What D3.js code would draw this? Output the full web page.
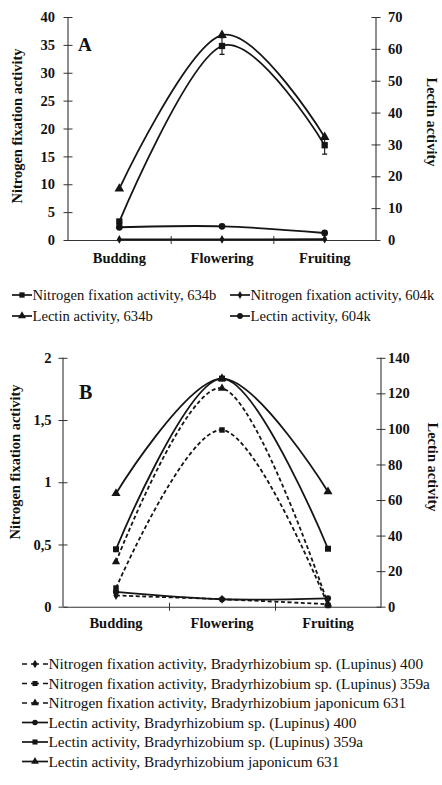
<!DOCTYPE html>
<html><head><meta charset="utf-8">
<script src="https://cdn.jsdelivr.net/npm/d3@7"></script>
<style>
html,body{margin:0;padding:0;background:#fff;}
svg{display:block;}
text{font-family:"Liberation Serif","Times New Roman",serif;fill:#111;}
</style></head>
<body>
<svg id="c" width="442" height="785"></svg>
<script>
// ---------- DATA ----------
const stages = ["Budding", "Flowering", "Fruiting"];

// Panel A
const nf634b = [3.3, 34.8, 17.0];
const nf634bErr = [0.4, 1.5, 1.6];
const lectin634b = [16.1, 64.3, 32.3];
const nf604k = [0.1, 0.1, 0.15];
const lectin604k = [4.0, 4.3, 2.2];
const ticksALeft = [0, 5, 10, 15, 20, 25, 30, 35, 40];
const ticksARight = [0, 10, 20, 30, 40, 50, 60, 70];
const legendA = ["Nitrogen fixation activity, 634b", "Nitrogen fixation activity, 604k",
                 "Lectin activity, 634b", "Lectin activity, 604k"];

// Panel B
const nf400 = [0.09, 0.06, 0.02];
const nf359a = [0.15, 1.42, 0.01];
const nf631 = [0.36, 1.755, 0.02];
const lec400 = [8.3, 4.2, 4.7];
const lec359a = [32.3, 128.3, 32.6];
const lec631 = [63.7, 128.3, 64.7];
const ticksBLeft = [0, 0.5, 1, 1.5, 2];
const ticksBLeftLabels = ["0", "0,5", "1", "1,5", "2"];
const ticksBRight = [0, 20, 40, 60, 80, 100, 120, 140];
const legendB = [
  "Nitrogen fixation activity, Bradyrhizobium sp. (Lupinus) 400",
  "Nitrogen fixation activity, Bradyrhizobium sp. (Lupinus) 359a",
  "Nitrogen fixation activity, Bradyrhizobium japonicum 631",
  "Lectin activity, Bradyrhizobium sp. (Lupinus) 400",
  "Lectin activity, Bradyrhizobium sp. (Lupinus) 359a",
  "Lectin activity, Bradyrhizobium japonicum 631"
];
const yTitleLeft = "Nitrogen fixation activity";
const yTitleRight = "Lectin activity";

// ---------- DRAW ----------
const svg = d3.select("#c");
const INK = "#151515";
const AX = "#333";
const curve = d3.curveCatmullRom.alpha(0);

const symbols = {
  square: d3.symbolSquare, triangle: d3.symbolTriangle,
  circle: d3.symbolCircle, diamond: d3.symbolDiamond
};

function panel(cfg) {
  const g = svg.append("g");
  const x = d3.scaleBand().domain(stages).range([cfg.x0, cfg.x1]);
  const xl = d3.scaleLinear().domain([0, 3]).range([cfg.x0, cfg.x1]);
  const yL = d3.scaleLinear().domain(cfg.yLDom).range([cfg.y0, cfg.y1]);
  const yR = d3.scaleLinear().domain(cfg.yRDom).range([cfg.y0, cfg.y1]);

  const la = g.append("g").attr("transform", `translate(${cfg.x0},0)`)
    .call(d3.axisLeft(yL).tickValues(cfg.ticksL).tickSize(4.5).tickPadding(cfg.padL)
      .tickFormat((d, i) => cfg.ticksLLabels ? cfg.ticksLLabels[i] : d));
  la.selectAll(".tick line").attr("x1", 4.5).attr("x2", -4.5);
  const ra = g.append("g").attr("transform", `translate(${cfg.x1},0)`)
    .call(d3.axisRight(yR).tickValues(cfg.ticksR).tickSize(4.5).tickPadding(cfg.padR));
  ra.selectAll(".tick line").attr("x1", -4.5).attr("x2", 4.5);
  const xa = g.append("g").attr("transform", `translate(0,${cfg.y0})`)
    .call(d3.axisBottom(x).tickSize(0).tickPadding(cfg.padX).tickSizeOuter(0));
  const xt = g.append("g").attr("transform", `translate(0,${cfg.y0})`)
    .call(d3.axisBottom(xl).tickValues([1, 2]).tickFormat("").tickSize(4));
  xt.select(".domain").remove();
  xt.selectAll(".tick line").attr("y1", -4).attr("y2", 4);

  [la, ra, xa, xt].forEach(a => {
    a.selectAll(".domain").attr("stroke", AX).attr("stroke-width", 1.1);
    a.selectAll(".tick line").attr("stroke", AX).attr("stroke-width", 1);
    a.selectAll("text").attr("font-family", '"Liberation Serif",serif')
      .attr("font-weight", "bold").attr("font-size", cfg.tickFs).attr("fill", "#111");
  });
  ra.select(".domain").attr("d", `M0,${cfg.y0}V${cfg.y1}`);
  la.select(".domain").attr("d", `M0,${cfg.y0}V${cfg.y1}`);

  g.append("text").attr("transform", `translate(${cfg.tLx},${cfg.tLy}) rotate(-90)`)
    .attr("text-anchor", "middle").attr("dy", "0.35em")
    .attr("font-weight", "bold").attr("font-size", cfg.titleFs).text(yTitleLeft);
  g.append("text").attr("transform", `translate(${cfg.tRx},${cfg.tRy}) rotate(90)`)
    .attr("text-anchor", "middle").attr("dy", "0.35em")
    .attr("font-weight", "bold").attr("font-size", cfg.titleFs).text(yTitleRight);
  g.append("text").attr("x", cfg.lx).attr("y", cfg.ly)
    .attr("font-weight", "bold").attr("font-size", cfg.letterFs).text(cfg.letter);

  cfg.series.forEach(s => {
    const y = s.axis === "L" ? yL : yR;
    const line = d3.line().x((d, i) => x(stages[i]) + x.bandwidth() / 2).y(d => y(d)).curve(curve);
    g.append("path").attr("d", line(s.values)).attr("fill", "none")
      .attr("stroke", INK).attr("stroke-width", 1.8)
      .attr("stroke-dasharray", s.dashed ? "4,2.6" : null);
    if (s.err) {
      s.values.forEach((v, i) => {
        const cx = x(stages[i]) + x.bandwidth() / 2;
        const e = s.err[i];
        g.append("path").attr("d",
          `M${cx},${y(v - e)}V${y(v + e)}M${cx - 2.5},${y(v - e)}H${cx + 2.5}M${cx - 2.5},${y(v + e)}H${cx + 2.5}`)
          .attr("stroke", INK).attr("stroke-width", 1.1).attr("fill", "none");
      });
    }
    s.values.forEach((v, i) => {
      const cx = x(stages[i]) + x.bandwidth() / 2;
      g.append("path").attr("d", d3.symbol(symbols[s.sym], s.size)())
        .attr("transform", `translate(${cx},${y(v)})`).attr("fill", INK);
    });
  });
}

panel({
  x0: 68, x1: 376, y0: 240, y1: 17,
  yLDom: [0, 40], yRDom: [0, 70],
  ticksL: ticksALeft, ticksR: ticksARight,
  padL: 8.5, padR: 7.5, padX: 13, tickFs: 14.5,
  tLx: 17, tLy: 126, tRx: 432, tRy: 122, titleFs: 14.5,
  letter: "A", lx: 78, ly: 51, letterFs: 19,
  series: [
    { values: nf634b, axis: "L", sym: "square", size: 40, err: nf634bErr },
    { values: lectin634b, axis: "R", sym: "triangle", size: 40 },
    { values: nf604k, axis: "L", sym: "diamond", size: 22 },
    { values: lectin604k, axis: "R", sym: "circle", size: 36 }
  ]
});

panel({
  x0: 63, x1: 381, y0: 606.7, y1: 357.8,
  yLDom: [0, 2], yRDom: [0, 140],
  ticksL: ticksBLeft, ticksLLabels: ticksBLeftLabels, ticksR: ticksBRight,
  padL: 7, padR: 2.5, padX: 11.5, tickFs: 14.5,
  tLx: 15, tLy: 462, tRx: 433, tRy: 467, titleFs: 14.5,
  letter: "B", lx: 79, ly: 399, letterFs: 20,
  series: [
    { values: nf400, axis: "L", sym: "diamond", size: 24, dashed: true },
    { values: nf359a, axis: "L", sym: "square", size: 30, dashed: true },
    { values: nf631, axis: "L", sym: "triangle", size: 30, dashed: true },
    { values: lec400, axis: "R", sym: "circle", size: 30 },
    { values: lec359a, axis: "R", sym: "square", size: 36 },
    { values: lec631, axis: "R", sym: "triangle", size: 36 }
  ]
});

// ---------- LEGENDS ----------
function legendItem(x0, x1, y, sym, size, dashed, label, fs) {
  const g = svg.append("g");
  const mid = (x0 + x1) / 2;
  if (dashed) {
    g.append("path").attr("d", `M${x0},${y}H${x0 + 5}M${mid - 4},${y}H${mid + 4}M${x1 - 5},${y}H${x1}`)
      .attr("stroke", INK).attr("stroke-width", 1.7);
  } else {
    g.append("line").attr("x1", x0).attr("x2", x1).attr("y1", y).attr("y2", y)
      .attr("stroke", INK).attr("stroke-width", 1.7);
  }
  g.append("path").attr("d", d3.symbol(symbols[sym], size)()).attr("transform", `translate(${mid},${y})`).attr("fill", INK);
  g.append("text").attr("x", x1 + 0.5).attr("y", y).attr("dy", "0.33em")
    .attr("font-size", fs).text(label);
}

const legASyms = ["square", "diamond", "triangle", "circle"];
const legASizes = [28, 18, 28, 26];
legendA.forEach((t, i) => {
  const col = i % 2, row = Math.floor(i / 2);
  const x0 = col === 0 ? 12 : 230;
  legendItem(x0, x0 + 20, 295 + row * 21, legASyms[i], legASizes[i], false, t, 14.6);
});

const legBSyms = ["diamond", "square", "triangle", "circle", "square", "triangle"];
const legBSizes = [22, 26, 26, 24, 26, 26];
legendB.forEach((t, i) => {
  legendItem(22, 48, 664 + i * 19.5, legBSyms[i], legBSizes[i], i < 3, t, 15.3);
});
</script>
</body></html>
